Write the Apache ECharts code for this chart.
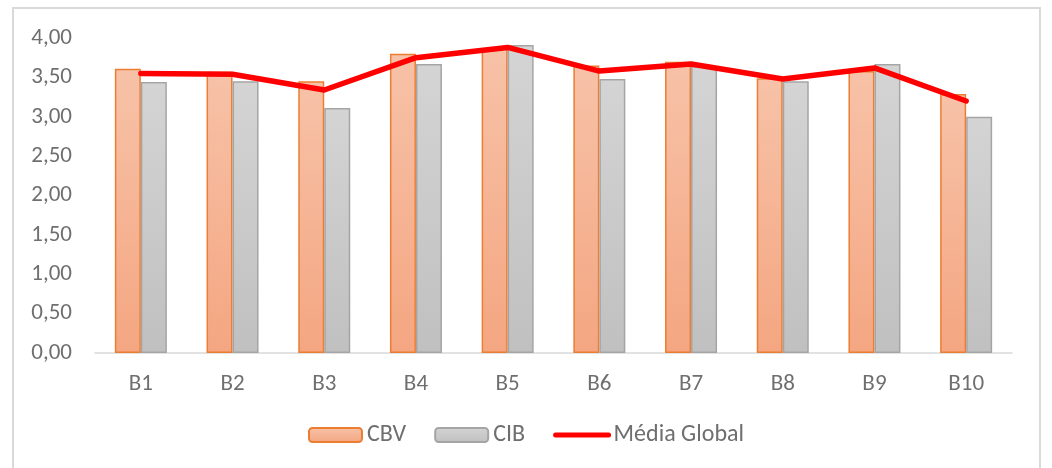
<!DOCTYPE html>
<html>
<head>
<meta charset="utf-8">
<script src="https://cdn.jsdelivr.net/npm/echarts@6/dist/echarts.min.js"></script>
<style>
  html, body { margin: 0; padding: 0; background: #fff; }
  #chart { width: 1052px; height: 468px; }
</style>
</head>
<body>
<div id="chart"></div>
<script>
// valores
var categorias = ['B1', 'B2', 'B3', 'B4', 'B5', 'B6', 'B7', 'B8', 'B9', 'B10'];
var cbv = [3.61, 3.57, 3.45, 3.80, 3.87, 3.65, 3.70, 3.49, 3.58, 3.29];
var cib = [3.44, 3.45, 3.11, 3.67, 3.91, 3.48, 3.64, 3.45, 3.67, 3.00];
var mediaGlobal = [3.55, 3.54, 3.34, 3.75, 3.88, 3.58, 3.67, 3.48, 3.62, 3.20];

var fonte = 'Carlito, Lato, "Liberation Sans", sans-serif';
var cinzaTexto = '#6f6f6f';

var chart = echarts.init(document.getElementById('chart'));

var option = {
  animation: false,
  textStyle: { fontFamily: fonte },
  graphic: [{
    type: 'rect',
    shape: { x: 13, y: 8, width: 1027, height: 470 },
    style: { fill: 'none', stroke: '#d9d9d9', lineWidth: 2 },
    silent: true
  }],
  grid: { left: 95, right: 40, top: 38, bottom: 115 },
  legend: {
    bottom: 16,
    left: 'center',
    itemWidth: 53,
    itemHeight: 14,
    itemGap: 28,
    textStyle: { fontFamily: fonte, fontSize: 24, color: cinzaTexto },
    data: [
      'CBV',
      'CIB',
      { name: 'Média Global', itemStyle: { opacity: 0 }, lineStyle: { width: 5, cap: 'round' } }
    ]
  },
  xAxis: {
    type: 'category',
    data: categorias,
    axisLine: { lineStyle: { color: '#d9d9d9', width: 1.5 } },
    axisTick: { show: false },
    axisLabel: { fontFamily: fonte, fontSize: 23, color: cinzaTexto, margin: 20 }
  },
  yAxis: {
    type: 'value',
    min: 0,
    max: 4,
    interval: 0.5,
    axisLine: { show: false },
    axisTick: { show: false },
    splitLine: { show: false },
    axisLabel: {
      fontFamily: fonte, fontSize: 23, color: cinzaTexto, margin: 23,
      formatter: function (v) { return v.toFixed(2).replace('.', ','); }
    }
  },
  series: [
    {
      name: 'CBV',
      type: 'bar',
      data: cbv,
      barWidth: 26,
      barGap: '0%',
      itemStyle: {
        color: new echarts.graphic.LinearGradient(0, 0, 0, 1, [
          { offset: 0, color: '#f7c2a8' },
          { offset: 1, color: '#f4a681' }
        ]),
        borderColor: '#ed7d31',
        borderWidth: 1.5
      }
    },
    {
      name: 'CIB',
      type: 'bar',
      data: cib,
      barWidth: 26,
      itemStyle: {
        color: new echarts.graphic.LinearGradient(0, 0, 0, 1, [
          { offset: 0, color: '#d4d4d4' },
          { offset: 1, color: '#c0c0c0' }
        ]),
        borderColor: '#a5a5a5',
        borderWidth: 1.5
      }
    },
    {
      name: 'Média Global',
      type: 'line',
      data: mediaGlobal,
      symbol: 'none',
      lineStyle: { color: '#ff0000', width: 5.5, cap: 'round', join: 'round' },
      itemStyle: { color: '#ff0000' },
      z: 5
    }
  ]
};

chart.setOption(option);
</script>
</body>
</html>
